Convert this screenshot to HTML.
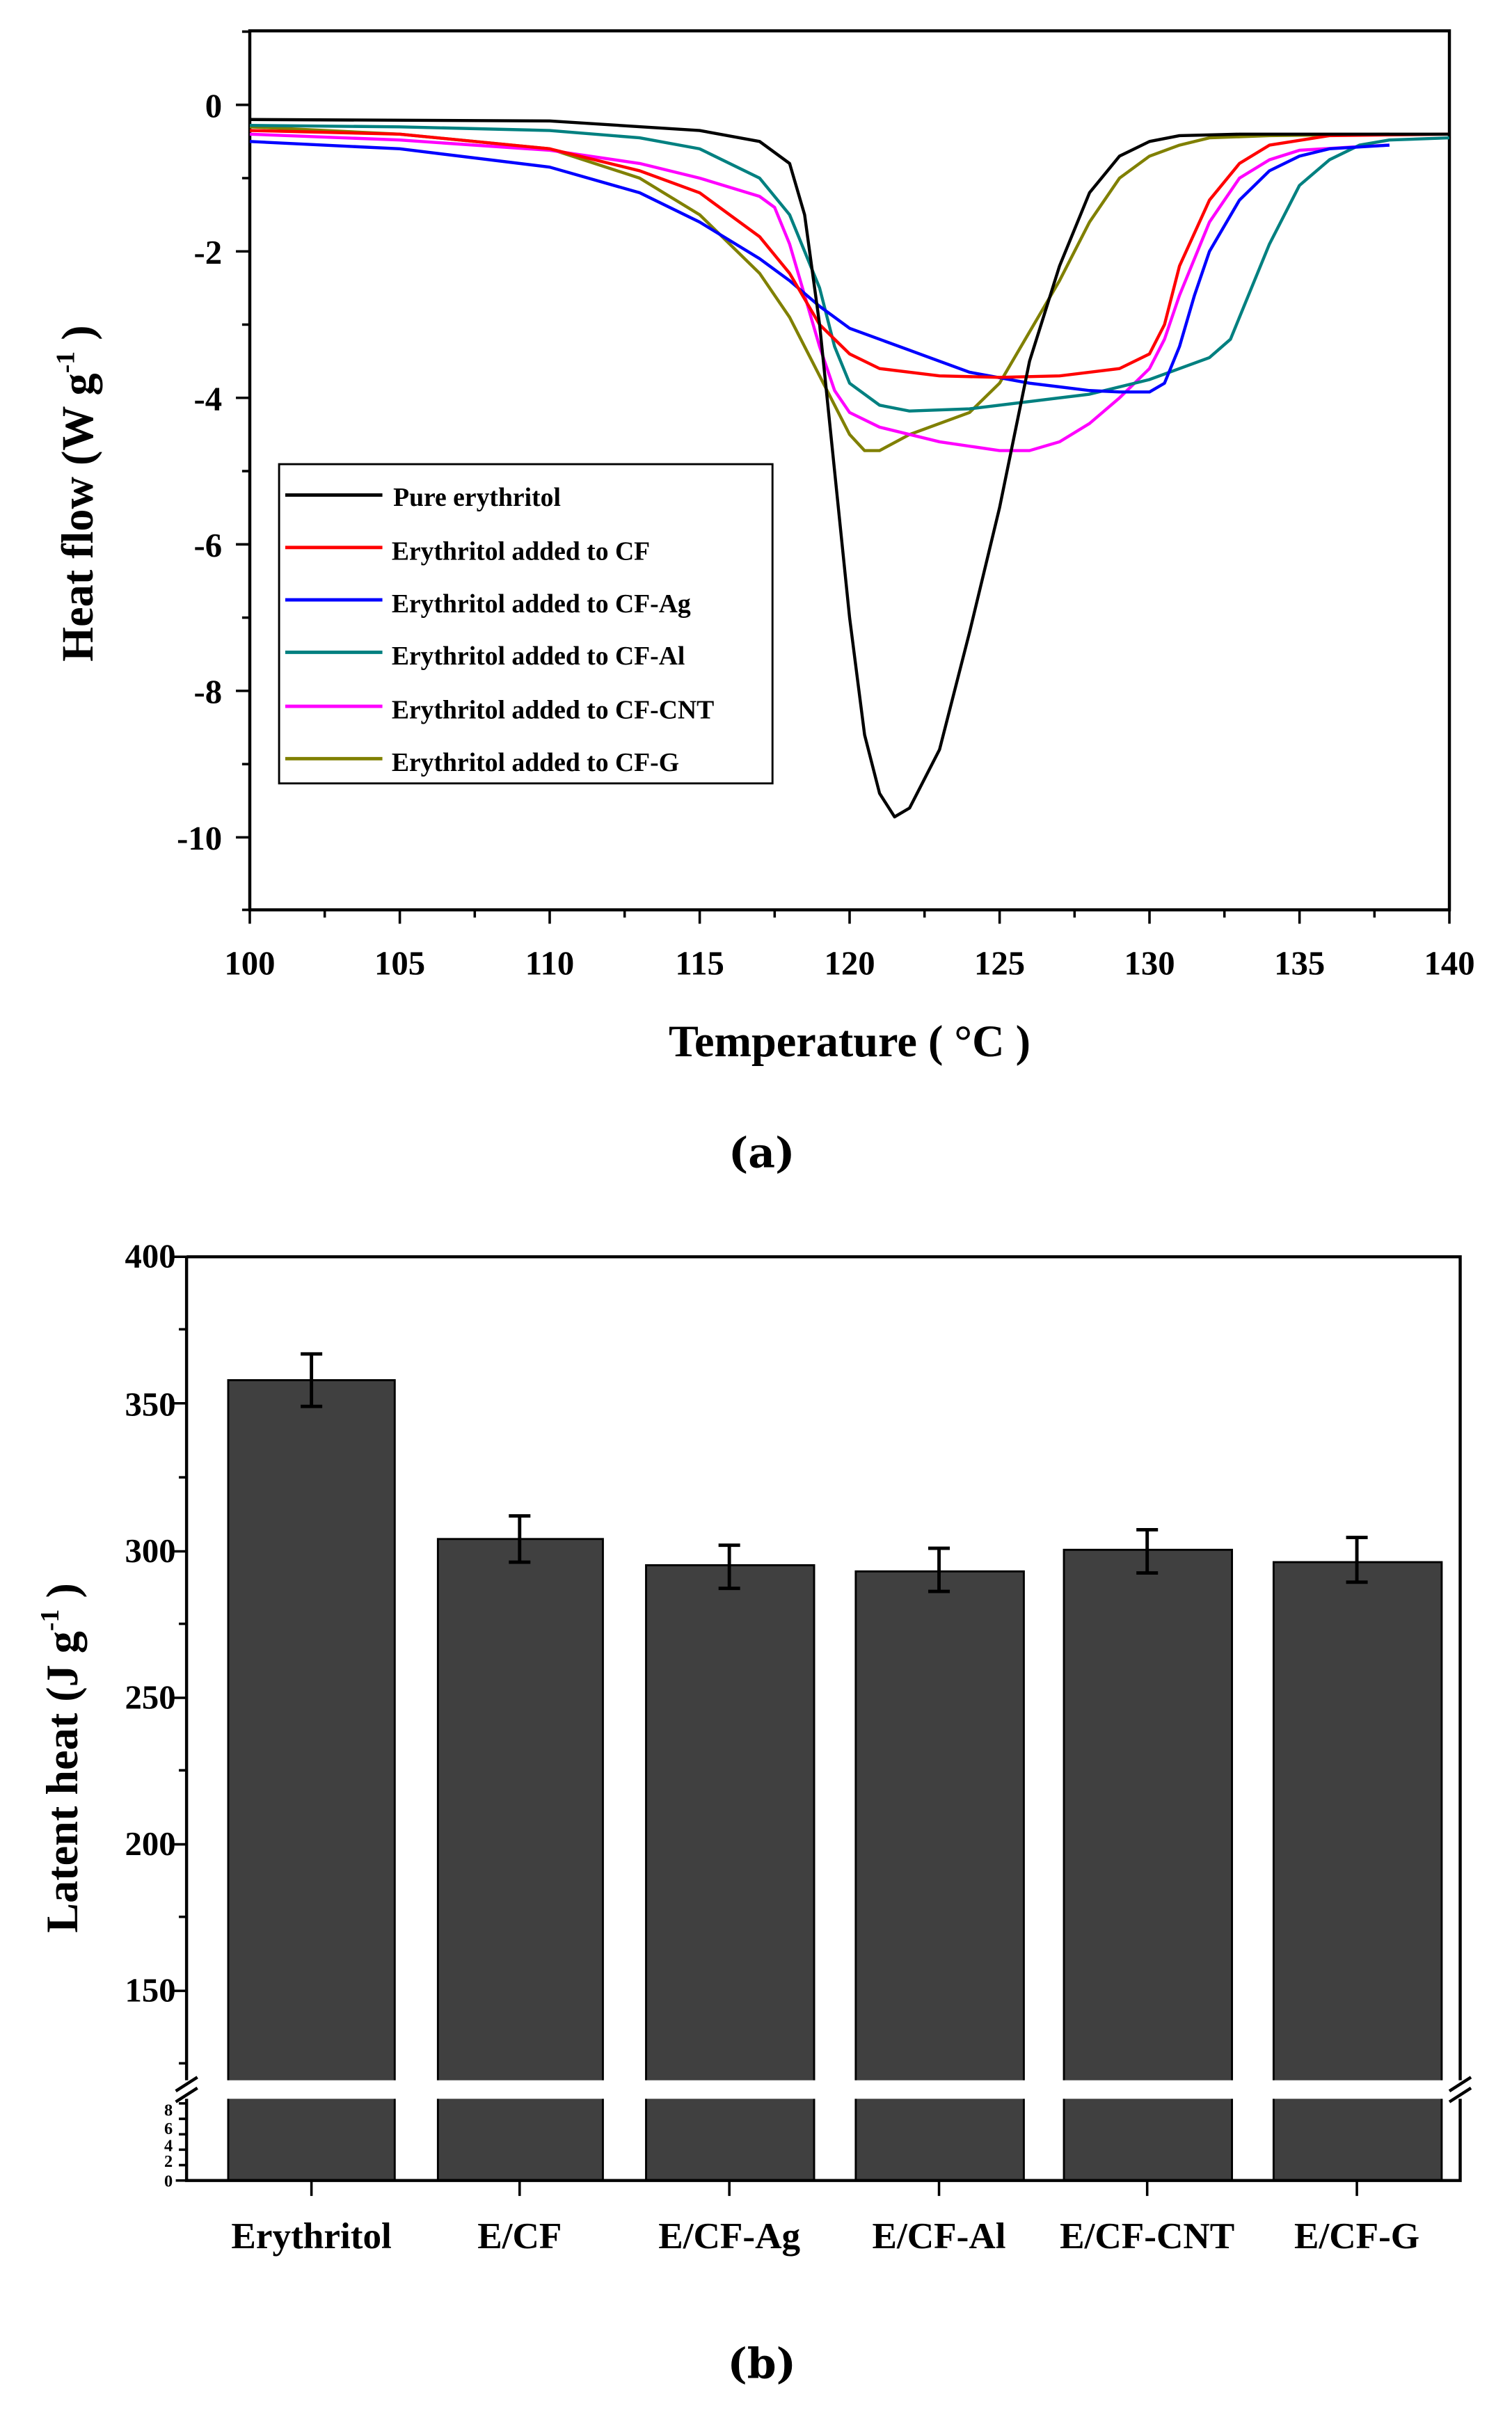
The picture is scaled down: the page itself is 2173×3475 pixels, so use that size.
<!DOCTYPE html>
<html><head><meta charset="utf-8"><style>html,body{margin:0;padding:0;background:#fff}svg{display:block}</style></head>
<body>
<svg width="2173" height="3475" viewBox="0 0 980.6 1568" preserveAspectRatio="none" xmlns="http://www.w3.org/2000/svg" font-family="'Liberation Serif',serif" font-weight="bold">
<!-- Panel a -->
<rect x="162" y="20" width="778" height="570" fill="none" stroke="#000" stroke-width="2"/>
<g stroke="#000" stroke-width="1.6">
<path d="M162,590v9M259.3,590v9M356.5,590v9M453.8,590v9M551,590v9M648.3,590v9M745.5,590v9M842.8,590v9M940,590v9"/>
<path d="M210.6,590v5M307.9,590v5M405.1,590v5M502.4,590v5M599.6,590v5M696.9,590v5M794.1,590v5M891.4,590v5"/>
<path d="M162,68h-9M162,163h-9M162,258h-9M162,353h-9M162,448h-9M162,543h-9"/>
<path d="M162,20.5h-5M162,115.5h-5M162,210.5h-5M162,305.5h-5M162,400.5h-5M162,495.5h-5M162,590h-5"/>
</g>
<g font-size="22" text-anchor="middle">
<text x="162" y="632">100</text><text x="259.3" y="632">105</text><text x="356.5" y="632">110</text><text x="453.8" y="632">115</text><text x="551" y="632">120</text><text x="648.3" y="632">125</text><text x="745.5" y="632">130</text><text x="842.8" y="632">135</text><text x="940" y="632">140</text>
</g>
<g font-size="22" text-anchor="end">
<text x="144" y="76">0</text><text x="144" y="171">-2</text><text x="144" y="266">-4</text><text x="144" y="361">-6</text><text x="144" y="456">-8</text><text x="144" y="551">-10</text>
</g>
<text x="551" y="685" font-size="29" text-anchor="middle">Temperature ( °C )</text>
<text transform="translate(60,320) rotate(-90)" font-size="29" text-anchor="middle">Heat flow (W g<tspan font-size="17" dy="-12">-1</tspan><tspan dy="12"> )</tspan></text>
<text x="494" y="757" font-size="27" text-anchor="middle" font-family="'DejaVu Serif',serif">(a)</text>
<g fill="none" stroke-width="4.4" transform="translate(162,68) scale(19.45,-47.5) translate(-100,0)" stroke-linejoin="round">
<polyline vector-effect="non-scaling-stroke" stroke="#808000" points="100,-0.3 105,-0.4 110,-0.6 113,-1 115,-1.5 117,-2.3 118,-2.9 119,-3.7 120,-4.5 120.5,-4.72 121,-4.72 122,-4.5 124,-4.2 125,-3.8 126,-3.1 127,-2.4 128,-1.6 129,-1 130,-0.7 131,-0.55 132,-0.45 134,-0.42 138,-0.4"/>
<polyline vector-effect="non-scaling-stroke" stroke="#ff00ff" points="100,-0.4 105,-0.48 110,-0.62 113,-0.8 115,-1 117,-1.25 117.5,-1.4 118,-1.9 118.5,-2.6 119,-3.3 119.5,-3.9 120,-4.2 121,-4.4 123,-4.6 125,-4.72 126,-4.72 127,-4.6 128,-4.35 129,-4 130,-3.6 130.5,-3.2 131,-2.6 132,-1.6 133,-1 134,-0.75 135,-0.62 137,-0.57 138,-0.55"/>
<polyline vector-effect="non-scaling-stroke" stroke="#008080" points="100,-0.28 105,-0.3 110,-0.35 113,-0.45 115,-0.6 117,-1 118,-1.5 119,-2.5 119.5,-3.3 120,-3.8 121,-4.1 122,-4.18 124,-4.15 126,-4.05 128,-3.95 130,-3.75 131,-3.6 132,-3.45 132.7,-3.2 133.5,-2.4 134,-1.9 135,-1.1 136,-0.75 137,-0.55 138,-0.48 140,-0.45"/>
<polyline vector-effect="non-scaling-stroke" stroke="#0000ff" points="100,-0.5 105,-0.6 110,-0.85 113,-1.2 115,-1.6 117,-2.1 118,-2.4 119,-2.75 120,-3.05 122,-3.35 124,-3.65 126,-3.8 128,-3.9 129,-3.92 130,-3.92 130.5,-3.8 131,-3.3 131.5,-2.6 132,-2 133,-1.3 134,-0.9 135,-0.7 136,-0.6 138,-0.55"/>
<polyline vector-effect="non-scaling-stroke" stroke="#ff0000" points="100,-0.35 105,-0.4 110,-0.6 113,-0.9 115,-1.2 117,-1.8 118,-2.3 119,-3 120,-3.4 121,-3.6 123,-3.7 125,-3.72 127,-3.7 129,-3.6 130,-3.4 130.5,-3 131,-2.2 132,-1.3 133,-0.8 134,-0.55 136,-0.42 140,-0.4"/>
<polyline vector-effect="non-scaling-stroke" stroke="#000" points="100,-0.2 110,-0.22 115,-0.35 117,-0.5 118,-0.8 118.5,-1.5 119,-3 119.5,-5 120,-7 120.5,-8.6 121,-9.4 121.5,-9.72 122,-9.6 123,-8.8 124,-7.2 125,-5.5 126,-3.5 127,-2.2 128,-1.2 129,-0.7 130,-0.5 131,-0.42 133,-0.4 140,-0.4"/>
</g>
<rect x="181" y="301" width="320" height="207" fill="#fff" stroke="#000" stroke-width="1.3"/>
<g stroke-width="2.2">
<path d="M185,321h63" stroke="#000"/><path d="M185,355h63" stroke="#ff0000"/><path d="M185,389h63" stroke="#0000ff"/><path d="M185,423h63" stroke="#008080"/><path d="M185,458h63" stroke="#ff00ff"/><path d="M185,492h63" stroke="#808000"/>
</g>
<g font-size="17">
<text x="255" y="328">Pure erythritol</text><text x="254" y="363">Erythritol added to CF</text><text x="254" y="397">Erythritol added to CF-Ag</text><text x="254" y="431">Erythritol added to CF-Al</text><text x="254" y="466">Erythritol added to CF-CNT</text><text x="254" y="500">Erythritol added to CF-G</text>
</g>
<!-- Panel b -->
<g fill="#404040" stroke="#000" stroke-width="1.3">
<rect x="148" y="895" width="108" height="519"/><rect x="284" y="998" width="107" height="416"/><rect x="419" y="1015" width="109" height="399"/><rect x="555" y="1019" width="109" height="395"/><rect x="690" y="1005" width="109" height="409"/><rect x="826" y="1013" width="109" height="401"/>
</g>
<rect x="121" y="1349" width="828" height="12" fill="#fff"/>
<path d="M121,815H947V1349M947,1361V1414H121V1361M121,1349V815" fill="none" stroke="#000" stroke-width="2"/>
<g stroke="#000" stroke-width="2"><path d="M114,1356l14,-9M114,1363l14,-9M940,1356l14,-9M940,1363l14,-9"/></g>
<g stroke="#000" stroke-width="1.6">
<path d="M121,815h-8M121,910h-8M121,1006h-8M121,1101h-8M121,1196h-8M121,1291h-8"/>
<path d="M121,862h-5M121,958h-5M121,1053h-5M121,1148h-5M121,1243h-5M121,1338h-5"/>
<path d="M121,1414h-7M121,1404h-5M121,1394h-5M121,1384h-5M121,1374h-5M121,1364h-5"/>
<path d="M202,1414v10M337,1414v10M473,1414v10M609,1414v10M744,1414v10M880,1414v10"/>
</g>
<g stroke="#000" stroke-width="2.2">
<path d="M202,912v-34M195,912h14M195,878h14M337,1013v-30M330,1013h14M330,983h14M473,1030v-28M466,1030h14M466,1002h14M609,1032v-28M602,1032h14M602,1004h14M744,1020v-28M737,1020h14M737,992h14M880,1026v-29M873,1026h14M873,997h14"/>
</g>
<g font-size="22" text-anchor="end">
<text x="114" y="822">400</text><text x="114" y="918">350</text><text x="114" y="1013">300</text><text x="114" y="1108">250</text><text x="114" y="1203">200</text><text x="114" y="1298">150</text>
</g>
<g font-size="11" text-anchor="end"><text x="112" y="1372">8</text><text x="112" y="1384">6</text><text x="112" y="1395">4</text><text x="112" y="1405">2</text><text x="112" y="1418">0</text></g>
<g font-size="24" text-anchor="middle">
<text x="202" y="1458">Erythritol</text><text x="337" y="1458">E/CF</text><text x="473" y="1458">E/CF-Ag</text><text x="609" y="1458">E/CF-Al</text><text x="744" y="1458">E/CF-CNT</text><text x="880" y="1458">E/CF-G</text>
</g>
<text transform="translate(50,1140) rotate(-90)" font-size="29" text-anchor="middle">Latent heat (J g<tspan font-size="17" dy="-12">-1</tspan><tspan dy="12"> )</tspan></text>
<text x="494" y="1542" font-size="27" text-anchor="middle" font-family="'DejaVu Serif',serif">(b)</text>
</svg>
</body></html>
